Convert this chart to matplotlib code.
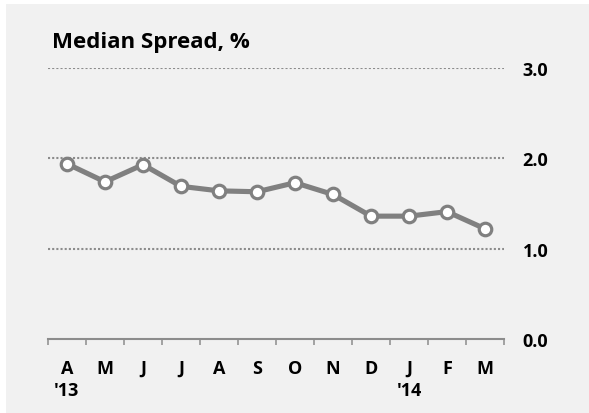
import matplotlib
matplotlib.use('Agg')
import matplotlib.pyplot as plt
from matplotlib.patches import Rectangle

months = ['A', 'M', 'J', 'J', 'A', 'S', 'O', 'N', 'D', 'J', 'F', 'M']
years = ["'13", '', '', '', '', '', '', '', '', "'14", '', '']
spread = [1.94, 1.74, 1.93, 1.69, 1.64, 1.63, 1.73, 1.60, 1.36, 1.36, 1.41, 1.22]
y_ticks = [0.0, 1.0, 2.0, 3.0]

plt.rcParams['font.family'] = ['Open Sans', 'DejaVu Sans']

fig = plt.figure(figsize=(5.89, 4.14), dpi=100)
fig.patch.set_facecolor('white')
# light grey panel behind everything
fig.patches.append(Rectangle((6 / 589, 0), 1, 1 - 5 / 414, transform=fig.transFigure,
                             facecolor='#f1f1f1', edgecolor='none', zorder=-10))

ax = fig.add_axes([48 / 589, 1 - 340 / 414, 456 / 589, 271 / 414])
ax.set_zorder(2)
ax.set_facecolor('none')

x = list(range(len(spread)))
ax.plot(x, spread, color='#808080', linewidth=3.7, marker='o', markersize=9,
        markerfacecolor='white', markeredgecolor='#808080', markeredgewidth=2.3,
        zorder=3, clip_on=False)

ax.set_xlim(-0.5, len(spread) - 0.5)
ax.set_ylim(0, 3)

for v in y_ticks[1:]:
    ax.axhline(v, color='#8c8c8c', linewidth=1.5, linestyle=(0, (1, 1)), zorder=1)

for s in ['top', 'left', 'right']:
    ax.spines[s].set_visible(False)
ax.spines['bottom'].set_color('#8c8c8c')
ax.spines['bottom'].set_linewidth(1.5)

ax.yaxis.tick_right()
ax.set_yticks(y_ticks)
ax.set_yticklabels(['%.1f' % v for v in y_ticks], fontsize=13, fontweight='bold')
ax.tick_params(axis='y', length=0, pad=13.5)

# ticks at month boundaries, labels centred on months
ax.set_xticks([i - 0.5 for i in range(len(spread) + 1)])
ax.set_xticklabels([])
ax.tick_params(axis='x', which='major', length=4.5, width=1.1, color='#8c8c8c', direction='out')
ax.set_xticks(x, minor=True)
ax.set_xticklabels([m + '\n' + y for m, y in zip(months, years)], minor=True,
                   fontsize=13, fontweight='bold', linespacing=1.25)
ax.tick_params(axis='x', which='minor', length=0, pad=14.5)

fig.text(52 / 589, 1 - 48 / 414, 'Median Spread, %', fontsize=16, fontweight='bold',
         va='baseline', ha='left')

fig.savefig('out.png', dpi=100, facecolor=fig.get_facecolor())
